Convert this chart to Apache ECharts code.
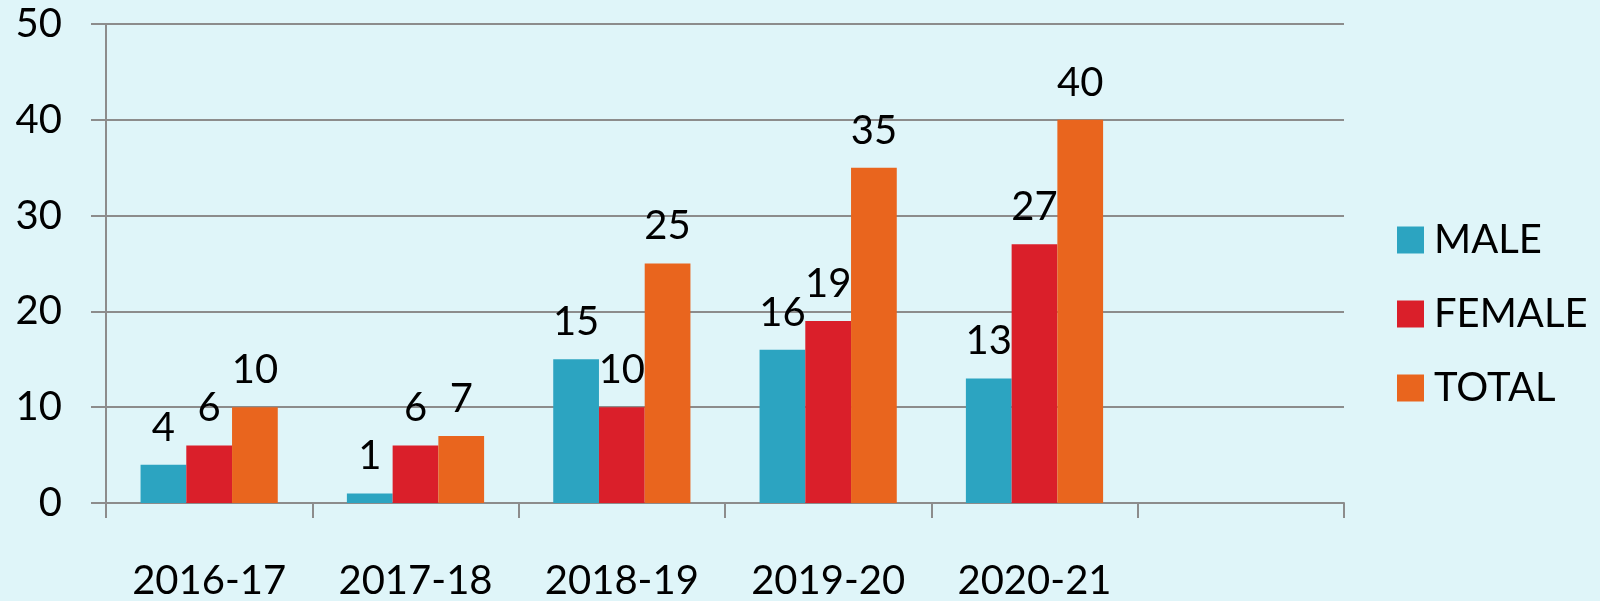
<!DOCTYPE html>
<html>
<head>
<meta charset="utf-8">
<script src="https://cdn.jsdelivr.net/npm/echarts@6/dist/echarts.min.js"></script>
<style>
  html, body { margin: 0; padding: 0; background: #dff5f9; }
  #chart { width: 1600px; height: 601px; }
</style>
</head>
<body>
<div id="chart"></div>
<script>
// years (last slot is left empty, as in the original)
const years = ['2016-17', '2017-18', '2018-19', '2019-20', '2020-21', '']
const male = [4, 1, 15, 16, 13, null]
const female = [6, 6, 10, 19, 27, null]
const total = [10, 7, 25, 35, 40, null]

const FONT = 'Lato'
const chart = echarts.init(document.getElementById('chart'))

const labelStyle = {
  show: true,
  position: 'top',
  distance: 17,
  color: '#000',
  fontFamily: FONT,
  fontSize: 40
}

function bar (name, data, color) {
  return {
    name: name,
    type: 'bar',
    data: data,
    barGap: '0%',
    barCategoryGap: '33.5%',
    itemStyle: { color: color },
    label: labelStyle
  }
}

chart.setOption({
  backgroundColor: '#dff5f9',
  animation: false,
  textStyle: { fontFamily: FONT },
  grid: {
    left: 106,
    right: 256,
    top: 24,
    bottom: 97
  },
  legend: {
    orient: 'vertical',
    left: 1392,
    top: 215,
    icon: 'rect',
    itemWidth: 27,
    itemHeight: 27,
    itemGap: 34,
    textStyle: {
      color: '#000',
      fontFamily: FONT,
      fontSize: 40,
      lineHeight: 40,
      padding: [0, 0, 0, 5]
    },
    data: ['MALE', 'FEMALE', 'TOTAL']
  },
  xAxis: {
    type: 'category',
    data: years,
    boundaryGap: true,
    axisLine: { lineStyle: { color: '#8c8c8c', width: 2 } },
    axisTick: {
      show: true,
      alignWithLabel: false,
      interval: 0,
      length: 15,
      lineStyle: { color: '#8c8c8c', width: 2 }
    },
    axisLabel: {
      color: '#000',
      fontFamily: FONT,
      fontSize: 40,
      margin: 58,
      interval: 0
    }
  },
  yAxis: {
    type: 'value',
    min: 0,
    max: 50,
    interval: 10,
    axisLine: { show: true, lineStyle: { color: '#8c8c8c', width: 2 } },
    axisTick: { show: true, length: 15, lineStyle: { color: '#8c8c8c', width: 2 } },
    splitLine: { lineStyle: { color: '#8c8c8c', width: 2 } },
    axisLabel: {
      color: '#000',
      fontFamily: FONT,
      fontSize: 40,
      margin: 44
    }
  },
  series: [
    bar('MALE', male, '#2ca4c1'),
    bar('FEMALE', female, '#da1f2a'),
    bar('TOTAL', total, '#e9651e')
  ]
})
</script>
</body>
</html>
